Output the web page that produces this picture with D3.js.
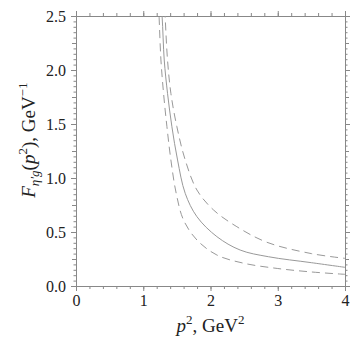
<!DOCTYPE html>
<html>
<head>
<meta charset="utf-8">
<script src="https://cdn.jsdelivr.net/npm/d3@7"></script>
<style>
  body { margin: 0; background: #fff; }
</style>
</head>
<body>
<div id="chart"></div>
<script>
// curve readings (p^2 in GeV^2, F in GeV^-1)
const centralP = [1.24, 1.28, 1.312, 1.361, 1.426, 1.51, 1.624, 1.798, 2.095, 2.441, 2.862, 3.5, 4.0];
const centralF = [2.8, 2.5, 2.093, 1.784, 1.475, 1.167, 0.858, 0.642, 0.457, 0.333, 0.271, 0.216, 0.173];

const lowerP = [1.21, 1.235, 1.263, 1.302, 1.352, 1.411, 1.49, 1.599, 1.798, 2.095, 2.5, 3.0, 3.5, 4.0];
const lowerF = [2.85, 2.5, 2.093, 1.784, 1.475, 1.167, 0.858, 0.611, 0.426, 0.287, 0.21, 0.162, 0.13, 0.108];

const upperP = [1.30, 1.325, 1.361, 1.411, 1.50, 1.624, 1.798, 2.045, 2.392, 2.838, 3.5, 4.0];
const upperF = [2.8, 2.5, 2.093, 1.784, 1.475, 1.167, 0.889, 0.704, 0.549, 0.405, 0.30, 0.256];

const xMajor = [0, 1, 2, 3, 4];
const yMajor = [0.0, 0.5, 1.0, 1.5, 2.0, 2.5];

const width = 362, height = 349;
const margin = { top: 16, right: 17, bottom: 63, left: 76 };
const serif = "Liberation Serif";

const svg = d3.select("#chart")
  .append("svg")
  .attr("width", width)
  .attr("height", height)
  .attr("font-family", serif);

const x = d3.scaleLinear().domain([0, 4]).range([margin.left, width - margin.right]);
const y = d3.scaleLinear().domain([0, 2.5]).range([height - margin.bottom, margin.top]);

const axisColor = "#888";
const xMinor = d3.range(0, 4.001, 0.2).map(v => +v.toFixed(2));
const yMinor = d3.range(0, 2.5001, 0.05).map(v => +v.toFixed(2));
const yMid = d3.range(0.25, 2.5, 0.5).map(v => +v.toFixed(2));

function styleAxis(g) {
  g.attr("font-family", serif);
  g.select(".domain").attr("stroke", axisColor);
  g.selectAll(".tick line").attr("stroke", axisColor);
  g.selectAll("text").attr("font-family", serif).attr("font-size", 16).attr("fill", "#222");
}

// minor ticks on all four sides
const bottomY = height - margin.bottom, rightX = width - margin.right;
[[d3.axisBottom(x), `translate(0,${bottomY})`, xMinor, 3],
 [d3.axisTop(x), `translate(0,${margin.top})`, xMinor, 3],
 [d3.axisLeft(y), `translate(${margin.left},0)`, yMinor, 2.5],
 [d3.axisRight(y), `translate(${rightX},0)`, yMinor, 2.5],
 [d3.axisLeft(y), `translate(${margin.left},0)`, yMid, 4],
 [d3.axisRight(y), `translate(${rightX},0)`, yMid, 4],
 [d3.axisTop(x), `translate(0,${margin.top})`, xMajor, 5],
 [d3.axisRight(y), `translate(${rightX},0)`, yMajor, 5]
].forEach(([ax, tr, vals, len]) => {
  svg.append("g")
    .attr("transform", tr)
    .call(ax.tickValues(vals).tickSize(len).tickSizeOuter(0).tickFormat(""))
    .call(styleAxis);
});

// labelled axes
svg.append("g")
  .attr("transform", `translate(0,${bottomY})`)
  .call(d3.axisBottom(x).tickValues(xMajor).tickSize(5).tickSizeOuter(0).tickPadding(4).tickFormat(d3.format("d")))
  .call(styleAxis);

svg.append("g")
  .attr("transform", `translate(${margin.left},0)`)
  .call(d3.axisLeft(y).tickValues(yMajor).tickSize(5).tickSizeOuter(0).tickPadding(5).tickFormat(d3.format(".1f")))
  .call(styleAxis);

// curves
svg.append("clipPath").attr("id", "plot-clip")
  .append("rect")
  .attr("x", margin.left).attr("y", margin.top)
  .attr("width", rightX - margin.left).attr("height", bottomY - margin.top);

const line = d3.line()
  .x(d => x(d[0]))
  .y(d => y(d[1]))
  .curve(d3.curveCatmullRom.alpha(0.5));

const curves = [
  { p: lowerP, f: lowerF, dash: "8,5" },
  { p: upperP, f: upperF, dash: "8,5" },
  { p: centralP, f: centralF, dash: null }
];

const plot = svg.append("g").attr("clip-path", "url(#plot-clip)");
curves.forEach(c => {
  plot.append("path")
    .datum(c.p.map((v, i) => [v, c.f[i]]))
    .attr("d", line)
    .attr("fill", "none")
    .attr("stroke", "#999")
    .attr("stroke-width", 1)
    .attr("stroke-dasharray", c.dash);
});

// axis titles
const xt = svg.append("text")
  .attr("x", x(2))
  .attr("y", 332)
  .attr("text-anchor", "middle")
  .attr("font-family", serif)
  .attr("fill", "#222")
  .attr("font-size", 19);
xt.append("tspan").attr("font-style", "italic").text("p");
xt.append("tspan").attr("font-size", 13).attr("dy", -8).text("2");
xt.append("tspan").attr("dy", 8).text(", GeV");
xt.append("tspan").attr("font-size", 13).attr("dy", -8).text("2");

const yt = svg.append("text")
  .attr("transform", `translate(35,${y(1.35)}) rotate(-90)`)
  .attr("text-anchor", "middle")
  .attr("font-family", serif)
  .attr("fill", "#222")
  .attr("font-size", 19);
yt.append("tspan").attr("font-style", "italic").text("F");
yt.append("tspan").attr("font-style", "italic").attr("font-size", 13).attr("dy", 4).text("η′g");
yt.append("tspan").attr("dy", -4).text("(");
yt.append("tspan").attr("font-style", "italic").text("p");
yt.append("tspan").attr("font-size", 13).attr("dy", -8).text("2");
yt.append("tspan").attr("dy", 8).text("), GeV");
yt.append("tspan").attr("font-size", 13).attr("dy", -8).text("−1");
</script>
</body>
</html>
